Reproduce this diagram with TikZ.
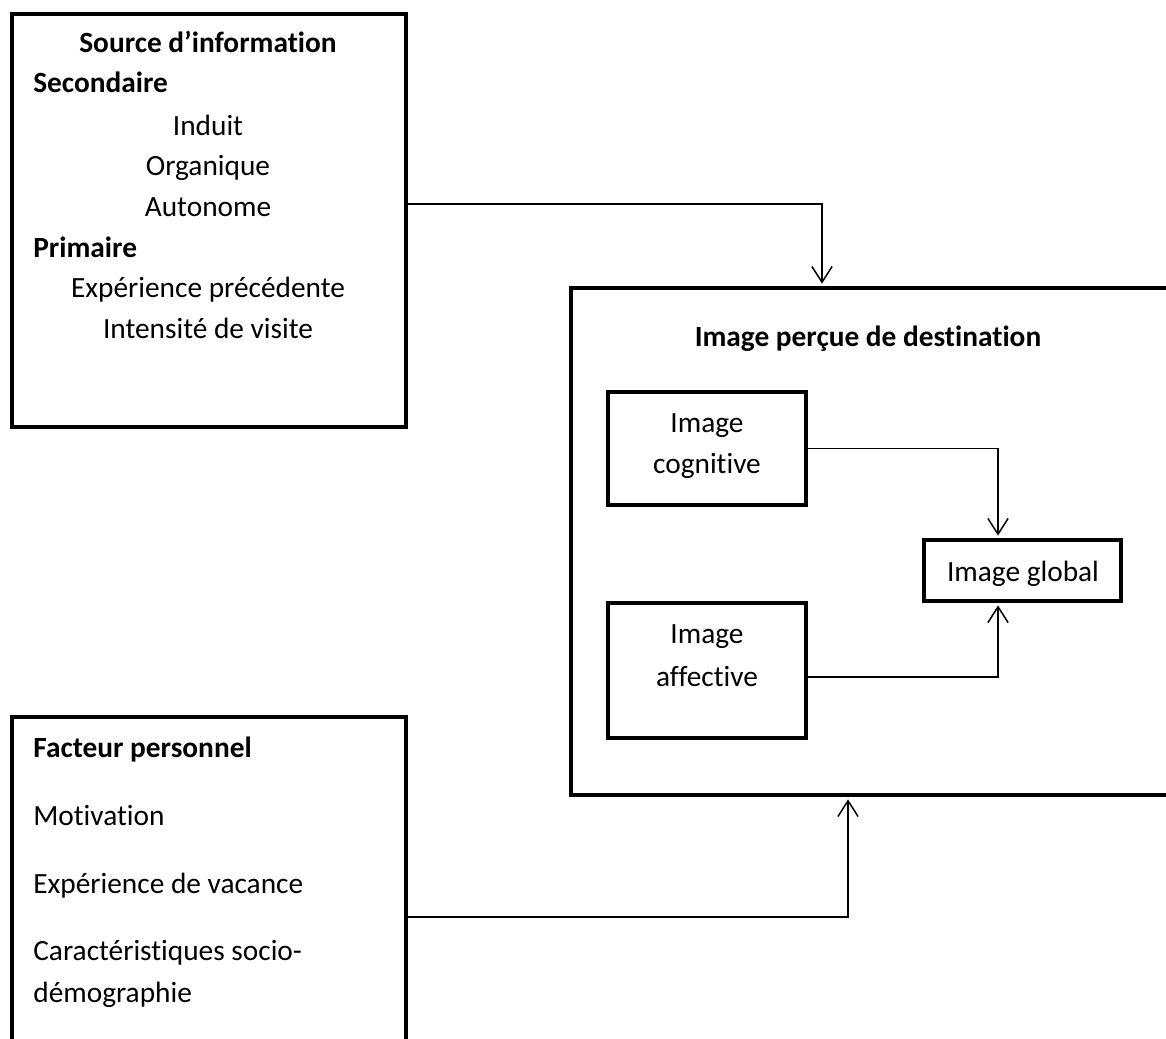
\documentclass[tikz,border=0pt]{standalone}
\usepackage{fontspec}
\setmainfont{Carlito}[Ligatures={NoCommon,NoRequired}]
\usetikzlibrary{arrows.meta}

\begin{document}
\begin{tikzpicture}[x=0.02cm, y=-0.02cm,
    box/.style={draw=black, line width=2.5pt, fill=white, minimum width=3.96cm, inner sep=0pt},
    ttl/.style={font=\fontsize{16.7}{20}\selectfont\bfseries, inner sep=0pt},
    itm/.style={font=\fontsize{16.7}{20}\selectfont, inner sep=0pt},
    edge/.style={-{Straight Barb[length=9pt, width=11.5pt]}, line width=0.85pt, shorten >=1.25pt}
]
\useasboundingbox (0,0) rectangle (1166,1038);
\clip (0,0) rectangle (1166,1038);

\node[box, minimum width=7.88cm, minimum height=8.26cm] (Src) at (209,220.5) {};
\node[box, minimum width=11.98cm, minimum height=10.14cm] (Img) at (870.5,541.5) {};
\node[box, minimum width=7.88cm, minimum height=6.86cm] (Fac) at (209,888.5) {};
\node[box, minimum height=2.26cm] (Cog) at (707,448.5) {};
\node[box, minimum height=2.7cm] (Aff) at (707,670.5) {};
\node[box, minimum width=3.94cm, minimum height=1.22cm] (Glb) at (1022.5,570.5) {};

\node[ttl, anchor=base] (SrcT) at (208,52) {Source d’information};
\node[ttl, anchor=base west] (Sec) at (33,92) {Secondaire};
\node[itm, anchor=base] (Ind) at (208,135) {Induit};
\node[itm, anchor=base] (Org) at (208,175) {Organique};
\node[itm, anchor=base] (Aut) at (208,216) {Autonome};
\node[ttl, anchor=base west] (Pri) at (33,257) {Primaire};
\node[itm, anchor=base] (Exp) at (208,297) {Expérience précédente};
\node[itm, anchor=base] (Int) at (208,338) {Intensité de visite};

\node[ttl, anchor=base] (ImgT) at (868,346) {Image perçue de destination};
\node[itm, anchor=base] (CogA) at (707,432) {Image};
\node[itm, anchor=base] (CogB) at (707,473) {cognitive};
\node[itm, anchor=base] (AffA) at (707,643) {Image};
\node[itm, anchor=base] (AffB) at (707,686) {affective};
\node[itm, anchor=base] (GlbT) at (1023,581) {Image global};

\node[ttl, anchor=base west] (FacT) at (33,757) {Facteur personnel};
\node[itm, anchor=base west] (Mot) at (33,825) {Motivation};
\node[itm, anchor=base west] (Vac) at (33,893) {Expérience de vacance};
\node[itm, anchor=base west] (CarA) at (33,960) {Caractéristiques socio-};
\node[itm, anchor=base west] (CarB) at (33,1002) {démographie};

\draw[edge] ([yshift=0.33cm]Src.east) -| ([xshift=-0.97cm]Img.north);
\draw[edge] ([yshift=-0.57cm]Fac.east) -| ([xshift=-0.45cm]Img.south);
\draw[edge] (Cog.east) -| ([xshift=-0.49cm]Glb.north);
\draw[edge] ([yshift=-0.13cm]Aff.east) -| ([xshift=-0.49cm]Glb.south);
\end{tikzpicture}
\end{document}
